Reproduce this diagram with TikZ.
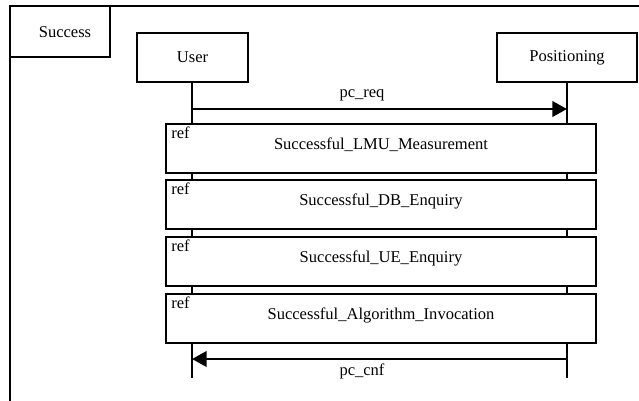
\documentclass[tikz,border=0pt]{standalone}
\usepackage{fontspec}
\setmainfont{Liberation Serif}
\usetikzlibrary{arrows.meta}
\begin{document}
\begin{tikzpicture}[x=0.75pt,y=-0.75pt,
  font=\fontsize{12.4}{14}\selectfont,
  frameline/.style={line width=1.2pt},
  lifebox/.style={draw,line width=1.5pt,fill=white,minimum height=36.75pt,inner sep=0pt},
  refbox/.style={draw,line width=1.5pt,fill=white,minimum width=322.5pt,minimum height=36.75pt,inner sep=0pt},
  lifeline/.style={line width=1.4pt},
  msg/.style={line width=2.2pt,-{Triangle[length=11pt,width=11.5pt]}},
  reftag/.style={anchor=north west,inner sep=0pt,xshift=4.5pt,yshift=-3pt},
  reftext/.style={inner sep=0pt}]
\useasboundingbox (0,0) rectangle (639,400);
\clip (0,0) rectangle (639,400);

% enclosing frame and its name tab
\draw[frameline] (10,6) rectangle (650,410);
\draw[frameline] (10,57) -- (110,57) -- (110,6);
\node[inner sep=0pt] (fname) at (65,32) {Success};

% participants
\node[lifebox,minimum width=83.25pt] (user) at (192.5,57.5) {User};
\node[lifebox,minimum width=105pt] (pos) at (567,57.5) {Positioning};

% lifeline ends
\coordinate (userEnd) at (192,378);
\coordinate (posEnd) at (567,378);
\draw[lifeline] (user.south -| userEnd) -- (userEnd);
\draw[lifeline] (pos.south) -- (posEnd);

% request message
\coordinate (reqA) at (192,109);
\coordinate (reqB) at (567,109);
\draw[msg] (reqA) -- (reqB);
\node[inner sep=0pt] (reqlbl) at (362,95) {pc\_req};

% interaction references
\node[refbox] (r1) at (381,148.5) {};
\node[reftag] (r1t) at (r1.north west) {ref};
\node[reftext] (r1l) at (381,145) {Successful\_LMU\_Measurement};

\node[refbox] (r2) at (381,204.5) {};
\node[reftag] (r2t) at (r2.north west) {ref};
\node[reftext] (r2l) at (381,201) {Successful\_DB\_Enquiry};

\node[refbox] (r3) at (381,261.5) {};
\node[reftag] (r3t) at (r3.north west) {ref};
\node[reftext] (r3l) at (381,258) {Successful\_UE\_Enquiry};

\node[refbox] (r4) at (381,318) {};
\node[reftag] (r4t) at (r4.north west) {ref};
\node[reftext] (r4l) at (381,315) {Successful\_Algorithm\_Invocation};

% confirmation message
\coordinate (cnfA) at (567,359);
\coordinate (cnfB) at (192,359);
\draw[msg] (cnfA) -- (cnfB);
\node[inner sep=0pt] (cnflbl) at (362,371) {pc\_cnf};
\end{tikzpicture}
\end{document}
